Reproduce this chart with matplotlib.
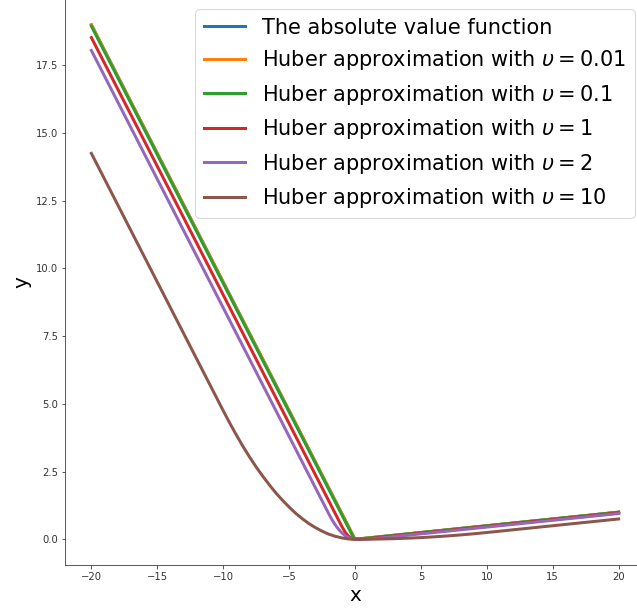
import matplotlib
matplotlib.use("Agg")
import matplotlib.pyplot as plt

# Data
x_abs = [-20, 0, 20]
y_abs = [19.0, 0.0, 1.0]

x_001 = [-20, 0, 20]
y_001 = [19.0, 0.0, 1.0]

x_01 = [-20, -0.1, 0, 0.1, 20]
y_01 = [18.95, 0.05, 0.0, 0.0, 1.0]

x_1 = [-20, -1, -0.75, -0.5, -0.25, 0, 0.5, 1, 20]
y_1 = [18.525, 0.475, 0.267, 0.12, 0.03, 0.0, 0.006, 0.025, 0.975]

x_2 = [-20, -2, -1.75, -1.5, -1.25, -1, -0.75, -0.5, -0.25, 0, 0.5, 1, 1.5, 2, 20]
y_2 = [18.05, 0.95, 0.727, 0.534, 0.371, 0.2375, 0.134, 0.059, 0.015, 0.0,
       0.003, 0.0125, 0.028, 0.05, 0.95]

x_10 = [-20, -15, -10, -9.5, -9, -8.5, -8, -7.5, -7, -6.5, -6, -5.5, -5, -4.5, -4,
        -3.5, -3, -2.5, -2, -1.5, -1, -0.5, 0,
        1, 2, 3, 4, 5, 6, 7, 8, 9, 10, 15, 20]
y_10 = [14.25, 9.5, 4.75, 4.29, 3.85, 3.43, 3.04, 2.67, 2.33, 2.01, 1.71, 1.44, 1.19,
        0.96, 0.76, 0.58, 0.43, 0.30, 0.19, 0.11, 0.05, 0.012, 0.0,
        0.0025, 0.01, 0.0225, 0.04, 0.0625, 0.09, 0.1225, 0.16, 0.2025, 0.25, 0.5, 0.75]

labels = [
    "The absolute value function",
    r"Huber approximation with $\upsilon=0.01$",
    r"Huber approximation with $\upsilon=0.1$",
    r"Huber approximation with $\upsilon=1$",
    r"Huber approximation with $\upsilon=2$",
    r"Huber approximation with $\upsilon=10$",
]
colors = ["#1f77b4", "#ff7f0e", "#2ca02c", "#d62728", "#9467bd", "#8c564b"]
series = [(x_abs, y_abs), (x_001, y_001), (x_01, y_01), (x_1, y_1), (x_2, y_2), (x_10, y_10)]

W, H, DPI = 637, 610, 72
fig = plt.figure(figsize=(W / DPI, H / DPI), dpi=DPI)
left, right, bottom, top = 65, 645, 565, -1
ax = fig.add_axes([left / W, (H - bottom) / H, (right - left) / W, (bottom - top) / H])

for (xs, ys), lab, c in zip(series, labels, colors):
    ax.plot(xs, ys, color=c, linewidth=3, label=lab)

ax.set_xlim(-22, 22)
ax.set_ylim(-0.95, 19.95)
ax.set_xticks([-20, -15, -10, -5, 0, 5, 10, 15, 20])
ax.set_yticks([0.0, 2.5, 5.0, 7.5, 10.0, 12.5, 15.0, 17.5])
ax.tick_params(labelsize=10, colors="#333333")
ax.spines["top"].set_visible(False)
ax.spines["right"].set_visible(False)
ax.spines["left"].set_color("#333333")
ax.spines["bottom"].set_color("#333333")
ax.set_xlabel("x", fontsize=20)
ax.set_ylabel("y", fontsize=20)
ax.legend(loc="upper right", fontsize=20.9, handlelength=2)

fig.savefig("out.png", dpi=DPI)
